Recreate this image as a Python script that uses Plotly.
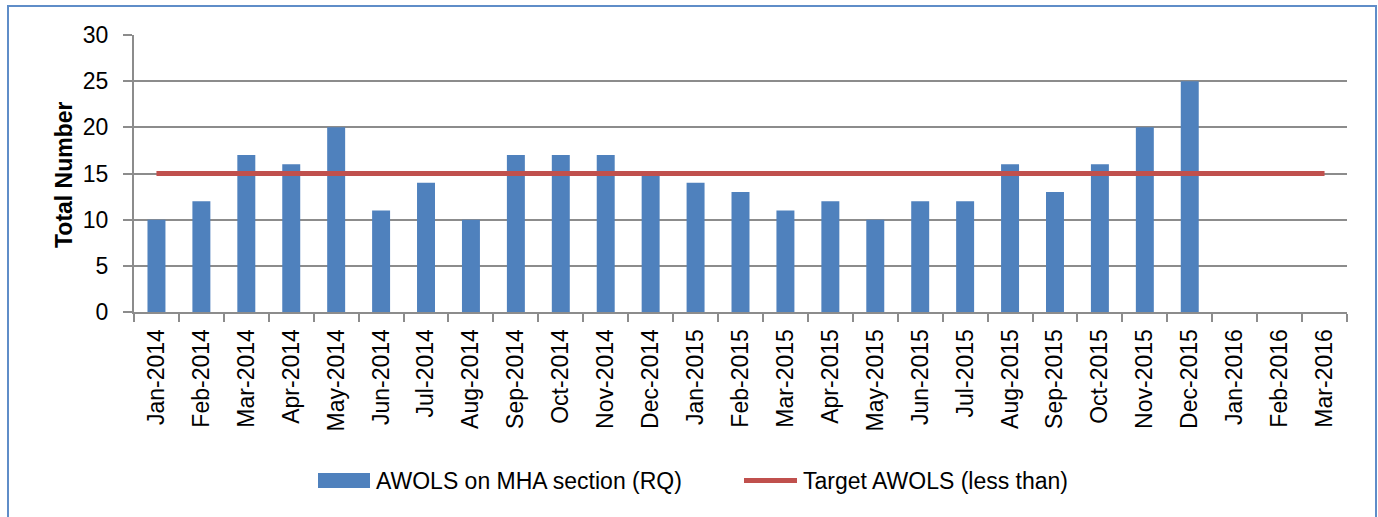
import plotly.graph_objects as go

months = ["Jan-2014", "Feb-2014", "Mar-2014", "Apr-2014", "May-2014", "Jun-2014",
          "Jul-2014", "Aug-2014", "Sep-2014", "Oct-2014", "Nov-2014", "Dec-2014",
          "Jan-2015", "Feb-2015", "Mar-2015", "Apr-2015", "May-2015", "Jun-2015",
          "Jul-2015", "Aug-2015", "Sep-2015", "Oct-2015", "Nov-2015", "Dec-2015",
          "Jan-2016", "Feb-2016", "Mar-2016"]
awols = [10, 12, 17, 16, 20, 11, 14, 10, 17, 17, 17, 15,
         14, 13, 11, 12, 10, 12, 12, 16, 13, 16, 20, 25,
         None, None, None]
target = [15] * 27

bar_name = "AWOLS on MHA section (RQ)"
line_name = "Target AWOLS (less than)"
y_title = "Total Number"
BLUE = "#4F81BD"
RED = "#C0504D"
GRID = "#8C8C8C"

fig = go.Figure()
fig.add_trace(go.Bar(x=months, y=awols, name=bar_name, marker=dict(color=BLUE, line=dict(width=0)),
                     showlegend=False))
fig.add_trace(go.Scatter(x=months, y=target, name=line_name, mode="lines",
                         line=dict(color=RED, width=5), showlegend=False))

W, H = 1378, 517
L, R, T, B = 134, 31, 35, 205

def px(x):
    return (x - L) / (W - L - R)

def py(y):
    return (H - B - y) / (H - T - B)

# frame around chart
fig.add_shape(type="rect", xref="paper", yref="paper",
              x0=px(8), x1=px(1376), y0=py(540), y1=py(6),
              line=dict(color="#5F8DC8", width=2), fillcolor="rgba(0,0,0,0)", layer="below")

# custom legend
fig.add_shape(type="rect", xref="paper", yref="paper",
              x0=px(318), x1=px(370), y0=py(488), y1=py(473),
              line=dict(width=0), fillcolor=BLUE)
fig.add_shape(type="line", xref="paper", yref="paper",
              x0=px(744), x1=px(797), y0=py(480.5), y1=py(480.5),
              line=dict(color=RED, width=5))
legend_font = dict(family="Liberation Sans, Arial", size=23, color="black")
fig.add_annotation(xref="paper", yref="paper", x=px(374), y=py(480.5), text=bar_name,
                   showarrow=False, xanchor="left", yanchor="middle", font=legend_font)
fig.add_annotation(xref="paper", yref="paper", x=px(801), y=py(480.5), text=line_name,
                   showarrow=False, xanchor="left", yanchor="middle", font=legend_font)
# y-axis title
fig.add_annotation(xref="paper", yref="paper", x=px(64), y=py(175), text="<b>" + y_title + "</b>",
                   textangle=-90, showarrow=False, xanchor="center", yanchor="middle",
                   font=dict(family="Liberation Sans, Arial", size=23, color="black"))

fig.update_layout(
    width=W, height=H,
    margin=dict(l=L, r=R, t=T, b=B),
    paper_bgcolor="white", plot_bgcolor="white",
    bargap=0.6,
    font=dict(family="Liberation Sans, Arial", color="black"),
)
fig.update_xaxes(
    type="category", categoryorder="array", categoryarray=months,
    tickangle=-90, tickfont=dict(family="Liberation Sans, Arial", size=23, color="black"),
    showline=True, linecolor=GRID, linewidth=2,
    ticks="outside", tickson="boundaries", ticklen=8, tickcolor=GRID, tickwidth=2,
    showgrid=False, range=[-0.5, 26.5], ticklabelstandoff=6,
)
fig.update_yaxes(
    range=[0, 30], tickvals=[0, 5, 10, 15, 20, 25, 30],
    tickfont=dict(family="Liberation Sans, Arial", size=23, color="black"),
    showline=True, linecolor=GRID, linewidth=2,
    ticks="outside", ticklen=9, tickcolor=GRID, tickwidth=2,
    showgrid=True, gridcolor=GRID, gridwidth=1.5, zeroline=False,
    ticklabelstandoff=10,
)

fig.write_html("out.html", config={"displayModeBar": False},
               post_script="document.body.style.margin='0';document.body.style.overflow='hidden';")
